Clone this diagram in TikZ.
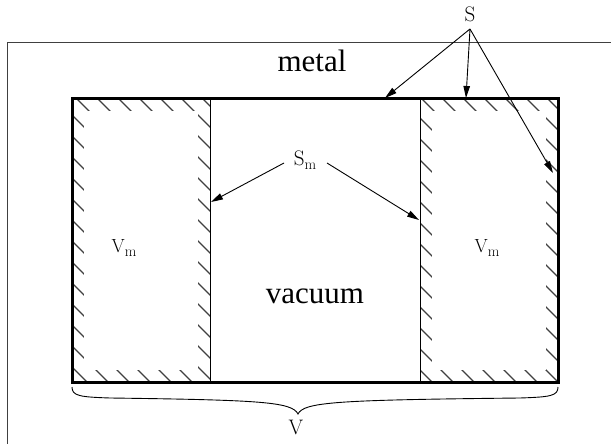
\documentclass[tikz,border=0pt]{standalone}
\usepackage{fontspec}
\newfontfamily\timesf{Liberation Serif}
\usetikzlibrary{arrows.meta}
\newcommand\subm[1]{\raisebox{-4pt}{\fontsize{#1}{#1}\selectfont m}}
\tikzset{
  frame/.style={draw=black!75, line width=0.9pt},
  wall/.style={draw=black, line width=3pt},
  divider/.style={draw=black, line width=0.9pt},
  hatch/.style={draw=black!75, line width=1.2pt},
  pointer/.style={draw=black, line width=0.9pt, -{Triangle[length=12pt,width=6.5pt]}},
  bigtext/.style={font=\timesf\fontsize{31}{31}\selectfont, inner sep=0pt},
  lbl/.style={font=\fontsize{21}{21}\selectfont, inner sep=0pt},
  smalllbl/.style={font=\fontsize{19}{19}\selectfont, inner sep=0pt},
}
\begin{document}
\begin{tikzpicture}[x=1pt,y=-1pt]
\useasboundingbox (0,0) rectangle (611,444);
\fill[white] (0,0) rectangle (611,444);
% metal frame
\draw[frame] (611,42) -- (7,42) -- (7,444);
% hatching left region
\begin{scope}
  \clip (72,99) rectangle (210,382);
  \foreach \c in {-400,-379,...,200} {
    \draw[hatch] (\c+60,60) -- (\c+420,420);
  }
\end{scope}
\fill[white] (84,111) rectangle (198,370);
% hatching right region
\begin{scope}
  \clip (420,99) rectangle (558,382);
  \foreach \c in {8,29,...,560} {
    \draw[hatch] (\c+0,0) -- (\c+440,440);
  }
\end{scope}
\fill[white] (432,111) rectangle (546,370);
% dividers
\draw[divider] (210,99) -- (210,382);
\draw[divider] (420,99) -- (420,382);
% thick cavity wall
\draw[wall] (72,99) rectangle (558,382);
% labels
\node[bigtext] (metal) at (312,61) {metal};
\node[bigtext] (vac) at (315,296) {vacuum};
\node[smalllbl] (vml) at (124,248) {V\subm{15}};
\node[smalllbl] (vmr) at (487,248) {V\subm{15}};
\node[lbl] (S) at (470,14) {S};
\node[lbl] (Sm) at (305,160) {S\subm{15}};
\node[lbl] (V) at (296,427) {V};
% S arrows
\coordinate (sp) at (470,29);
\coordinate (s1) at (385,98);
\coordinate (s2) at (466,98);
\coordinate (s3) at (553,173);
\draw[pointer] (sp) -- (s1);
\draw[pointer] (sp) -- (s2);
\draw[pointer] (sp) -- (s3);
% Sm arrows
\coordinate (ml) at (284,163);
\coordinate (mr) at (327,163);
\coordinate (m1) at (211,202);
\coordinate (m2) at (419,220);
\draw[pointer] (ml) -- (m1);
\draw[pointer] (mr) -- (m2);
% brace
\coordinate (bl) at (72,387);
\coordinate (bt) at (298,414);
\coordinate (br) at (558,387);
\draw[line width=0.9pt] (bl) .. controls (72,396) and (80,397) .. (110,398)
  .. controls (262,400) and (292,402) .. (bt)
  .. controls (304,402) and (336,400) .. (520,398)
  .. controls (550,397) and (558,396) .. (br);
\end{tikzpicture}
\end{document}
